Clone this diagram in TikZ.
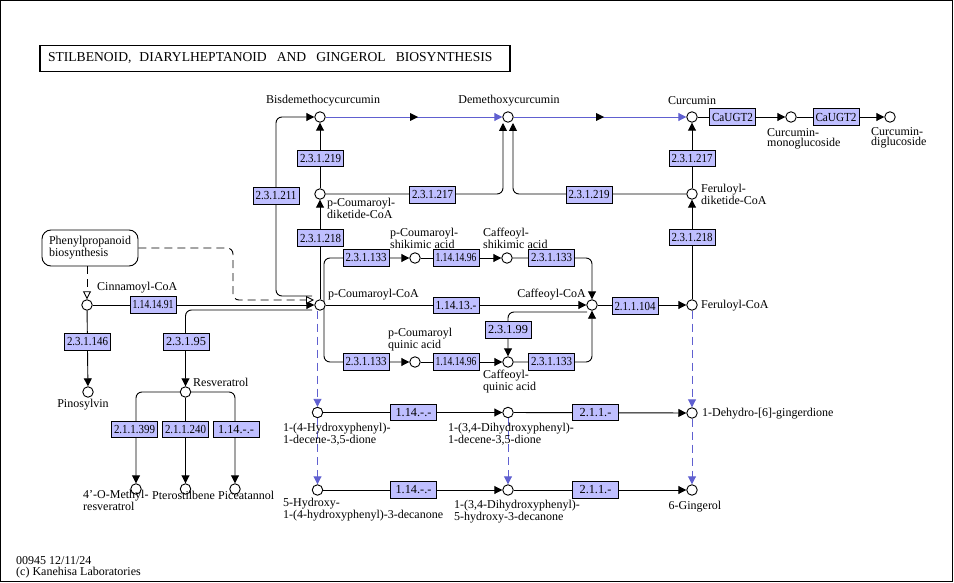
\documentclass[tikz,border=0pt]{standalone}
\usepackage{fontspec}
\setmainfont{Liberation Serif}
\usepackage{graphicx}
\usetikzlibrary{arrows.meta,calc,backgrounds,decorations.markings}
\definecolor{enzfill}{RGB}{191,191,255}
\definecolor{kblue}{RGB}{96,96,208}
\newsavebox\ecbox
\newcommand\ecfit[1]{\sbox\ecbox{#1}\ifdim\wd\ecbox>41pt\resizebox{41pt}{\height}{\usebox\ecbox}\else\usebox\ecbox\fi}
\tikzset{
  cpd/.style={circle, draw, fill=white, line width=0.9pt, minimum size=10.5pt, inner sep=0pt},
  enz/.style={rectangle, draw, fill=enzfill, line width=0.9pt, minimum width=46pt, minimum height=16.5pt, inner sep=0pt, font=\fontsize{12.3}{12}\selectfont},
  lbl/.style={inner sep=0pt, font=\fontsize{12}{10.5}\selectfont, align=left},
  con/.style={line width=0.9pt, rounded corners=6pt},
  arr/.style={con, -{Triangle[length=8pt,width=8pt]}},
  bluearr/.style={line width=0.9pt, kblue, -{Triangle[length=8pt,width=8pt]}, postaction={decorate},
    decoration={markings, mark=at position 0.5 with {\fill[black] (-4pt,4pt) -- (4pt,0pt) -- (-4pt,-4pt) -- cycle;}}},
  dblue/.style={line width=0.9pt, kblue, dash pattern=on 8pt off 5pt, -{Triangle[length=8pt,width=8pt]}},
  dblack/.style={line width=0.9pt, dash pattern=on 8pt off 5pt, rounded corners=6pt, -{Triangle[open,length=8pt,width=8pt,fill=white]}},
}
\begin{document}
\begin{tikzpicture}[x=1pt,y=-1pt]
\useasboundingbox (0,0) rectangle (954,583);
\draw[line width=1pt] (0.8,0.8) rectangle (952.5,581.5);
% title
\node[draw, line width=1.7pt, text width=454pt, minimum height=26pt, inner xsep=8pt, inner ysep=0pt, align=left, font=\fontsize{13.6}{14}\selectfont] (title) at (275,58.5)
  {STILBENOID,\hspace{8pt}DIARYLHEPTANOID\hspace{10pt}AND\hspace{10pt}GINGEROL\hspace{10pt}BIOSYNTHESIS};
% compounds
\node[cpd] (bis) at (320,117) {};
\node[cpd] (demeth) at (508,117) {};
\node[cpd] (cur) at (692,117) {};
\node[cpd] (mono) at (791,117) {};
\node[cpd] (digl) at (890,117) {};
\node[cpd] (dik) at (320,194) {};
\node[cpd] (ferdik) at (692,194) {};
\node[cpd] (pcoum) at (320,305) {};
\node[cpd] (cinn) at (87,305) {};
\node[cpd] (pcs) at (415,258) {};
\node[cpd] (cas) at (507,258) {};
\node[cpd] (caffcoa) at (592,305) {};
\node[cpd] (pcq) at (415,362) {};
\node[cpd] (caq) at (508,362) {};
\node[cpd] (fercoa) at (692,305) {};
\node[cpd] (pino) at (88,392) {};
\node[cpd] (resv) at (185.5,392) {};
\node[cpd] (meth) at (136,489) {};
\node[cpd] (ptero) at (185.5,489) {};
\node[cpd] (pice) at (235,489) {};
\node[cpd] (hpd) at (317.5,412.5) {};
\node[cpd] (dhpd) at (508,412.5) {};
\node[cpd] (ging) at (692,413) {};
\node[cpd] (hpdec) at (317.5,490) {};
\node[cpd] (dhpdec) at (508,490) {};
\node[cpd] (gingerol) at (692,490) {};
% map link
\node[draw, rounded corners=9pt, minimum width=96pt, minimum height=36pt, line width=0.9pt, lbl] (phen) at (90,248) {Phenylpropanoid\\biosynthesis};
% enzymes
\node[enz] (ugt1) at (732.5,117) {\ecfit{CaUGT2}};
\node[enz] (ugt2) at (836,117) {\ecfit{CaUGT2}};
\node[enz] (e219a) at (320.5,158.5) {\ecfit{2.3.1.219}};
\node[enz] (e211) at (276,196) {\ecfit{2.3.1.211}};
\node[enz] (e217a) at (432.5,195) {\ecfit{2.3.1.217}};
\node[enz] (e219b) at (589,195) {\ecfit{2.3.1.219}};
\node[enz] (e217b) at (692,158.5) {\ecfit{2.3.1.217}};
\node[enz] (e218a) at (320.5,238) {\ecfit{2.3.1.218}};
\node[enz] (e218b) at (692,237.5) {\ecfit{2.3.1.218}};
\node[enz] (e1491) at (153,305) {\ecfit{1.14.14.91}};
\node[enz] (e133a) at (366,258) {\ecfit{2.3.1.133}};
\node[enz] (e1496a) at (456,258) {\ecfit{1.14.14.96}};
\node[enz] (e133b) at (551.5,258) {\ecfit{2.3.1.133}};
\node[enz] (e1413) at (456,305.5) {\ecfit{1.14.13.-}};
\node[enz] (e133c) at (366,362) {\ecfit{2.3.1.133}};
\node[enz] (e1496b) at (456,362) {\ecfit{1.14.14.96}};
\node[enz] (e133d) at (551.5,362) {\ecfit{2.3.1.133}};
\node[enz] (e99) at (508,330) {\ecfit{2.3.1.99}};
\node[enz] (e104) at (635,306) {\ecfit{2.1.1.104}};
\node[enz] (e146) at (87.5,342) {\ecfit{2.3.1.146}};
\node[enz] (e95) at (186,342) {\ecfit{2.3.1.95}};
\node[enz] (e399) at (134.5,429.5) {\ecfit{2.1.1.399}};
\node[enz] (e240) at (185.5,429.5) {\ecfit{2.1.1.240}};
\node[enz] (e114r) at (236,429.5) {\ecfit{1.14.-.-}};
\node[enz] (e114a) at (413.5,412.5) {\ecfit{1.14.-.-}};
\node[enz] (e211a) at (595.5,412.5) {\ecfit{2.1.1.-}};
\node[enz] (e114b) at (413.5,490) {\ecfit{1.14.-.-}};
\node[enz] (e211b) at (595.5,490) {\ecfit{2.1.1.-}};
% helper coordinates
\coordinate (dm1) at (503,123);
\coordinate (dm2) at (513,123);
\coordinate (pcR) at ($(pcoum)+(4,0)$);
\coordinate (pc211) at ($(pcoum)+(-8,-9)$);
\coordinate (pc95) at ($(pcoum)+(-8,5)$);
\coordinate (c99) at ($(caffcoa)+(-5,7)$);
\coordinate (dcorner) at (233,300);
\coordinate (pcdash) at ($(pcoum)+(-6,-5)$);
% labels
\node[lbl] (l1) at (323,101) {Bisdemethocycurcumin};
\node[lbl] (l2) at (509,101) {Demethoxycurcumin};
\node[lbl] (l3) at (692,101) {Curcumin};
\node[lbl, anchor=west] (l4) at (767,139) {Curcumin-\\monoglucoside};
\node[lbl, anchor=west] (l5) at (871,138) {Curcumin-\\diglucoside};
\node[lbl, anchor=west] (l6) at (327,208) {p-Coumaroyl-\\diketide-CoA};
\node[lbl, anchor=west] (l7) at (701,194.5) {Feruloyl-\\diketide-CoA};
\node[lbl, anchor=west] (l8) at (97,288) {Cinnamoyl-CoA};
\node[lbl, anchor=west] (l9) at (328,295) {p-Coumaroyl-CoA};
\node[lbl, anchor=west] (l10) at (390,238) {p-Coumaroyl-\\shikimic acid};
\node[lbl, anchor=west] (l11) at (483,238) {Caffeoyl-\\shikimic acid};
\node[lbl, anchor=east] (l12) at (586,295) {Caffeoyl-CoA};
\node[lbl, anchor=west] (l13) at (388,340) {p-Coumaroyl\\quinic acid};
\node[lbl, anchor=west] (l14) at (483,381.5) {Caffeoyl-\\quinic acid};
\node[lbl, anchor=west] (l15) at (701,306) {Feruloyl-CoA};
\node[lbl] (l16) at (83,405) {Pinosylvin};
\node[lbl, anchor=west] (l17) at (193,382) {Resveratrol};
\node[lbl, anchor=west] (l18) at (83,500) {4’-O-Methyl-\\resveratrol};
\node[lbl, anchor=west] (l19) at (152,495) {Pterostilbene};
\node[lbl, anchor=west] (l20) at (218,495) {Piceatannol};
\node[lbl, anchor=west] (l21) at (283,434.5) {1-(4-Hydroxyphenyl)-\\1-decene-3,5-dione};
\node[lbl, anchor=west] (l22) at (448,434.5) {1-(3,4-Dihydroxyphenyl)-\\1-decene-3,5-dione};
\node[lbl, anchor=west] (l23) at (702,414) {1-Dehydro-[6]-gingerdione};
\node[lbl, anchor=west] (l24) at (283,510) {5-Hydroxy-\\1-(4-hydroxyphenyl)-3-decanone};
\node[lbl, anchor=west] (l25) at (454,512) {1-(3,4-Dihydroxyphenyl)-\\5-hydroxy-3-decanone};
\node[lbl] (l26) at (695,507) {6-Gingerol};
\node[lbl, anchor=west] (l27) at (16,567.5) {00945 12/11/24\\(c) Kanehisa Laboratories};
% connectors
\begin{scope}[on background layer]
\draw[bluearr] (bis) -- (demeth);
\draw[bluearr] (demeth) -- (cur);
\draw[arr] (cur) -- (mono);
\draw[arr] (mono) -- (digl);
\draw[arr] (dik) -- (bis);
\draw[arr] (ferdik) -- (cur);
\draw[arr] (dik) -| (dm1);
\draw[arr] (ferdik) -| (dm2);
\draw[arr] (pcoum) -- (dik);
\draw[arr] (fercoa) -- (ferdik);
\draw[arr] (pc211) -| (e211.center) |- (bis);
\draw[arr] (pcR) |- (pcs);
\draw[arr] (pcR) |- (pcq);
\draw[arr] (pcs) -- (cas);
\draw[arr] (cas) -| (caffcoa);
\draw[arr] (pcq) -- (caq);
\draw[arr] (caq) -| (caffcoa);
\draw[arr] (pcoum) -- (caffcoa);
\draw[arr] (c99) -| (caq);
\draw[arr] (caffcoa) -- (fercoa);
\draw[arr] (cinn) -- (pcoum);
\draw[arr] (cinn) -- (pino);
\draw[arr] (pc95) -| (resv);
\draw[arr] (resv) -| (meth);
\draw[arr] (resv) -- (ptero);
\draw[arr] (resv) -| (pice);
\draw[dblack] (phen.south -| cinn) -- (cinn);
\draw[dblack] (phen.east) -| (dcorner) -- (pcdash);
\draw[dblue] (pcoum.south -| hpd) -- (hpd);
\draw[dblue] (hpd) -- (hpdec);
\draw[dblue] (dhpd) -- (dhpdec);
\draw[dblue] (fercoa) -- (ging);
\draw[dblue] (ging) -- (gingerol);
\draw[arr] (hpd) -- (dhpd);
\draw[arr] (dhpd) -- (ging);
\draw[arr] (hpdec) -- (dhpdec);
\draw[arr] (dhpdec) -- (gingerol);
\end{scope}
\end{tikzpicture}
\end{document}
